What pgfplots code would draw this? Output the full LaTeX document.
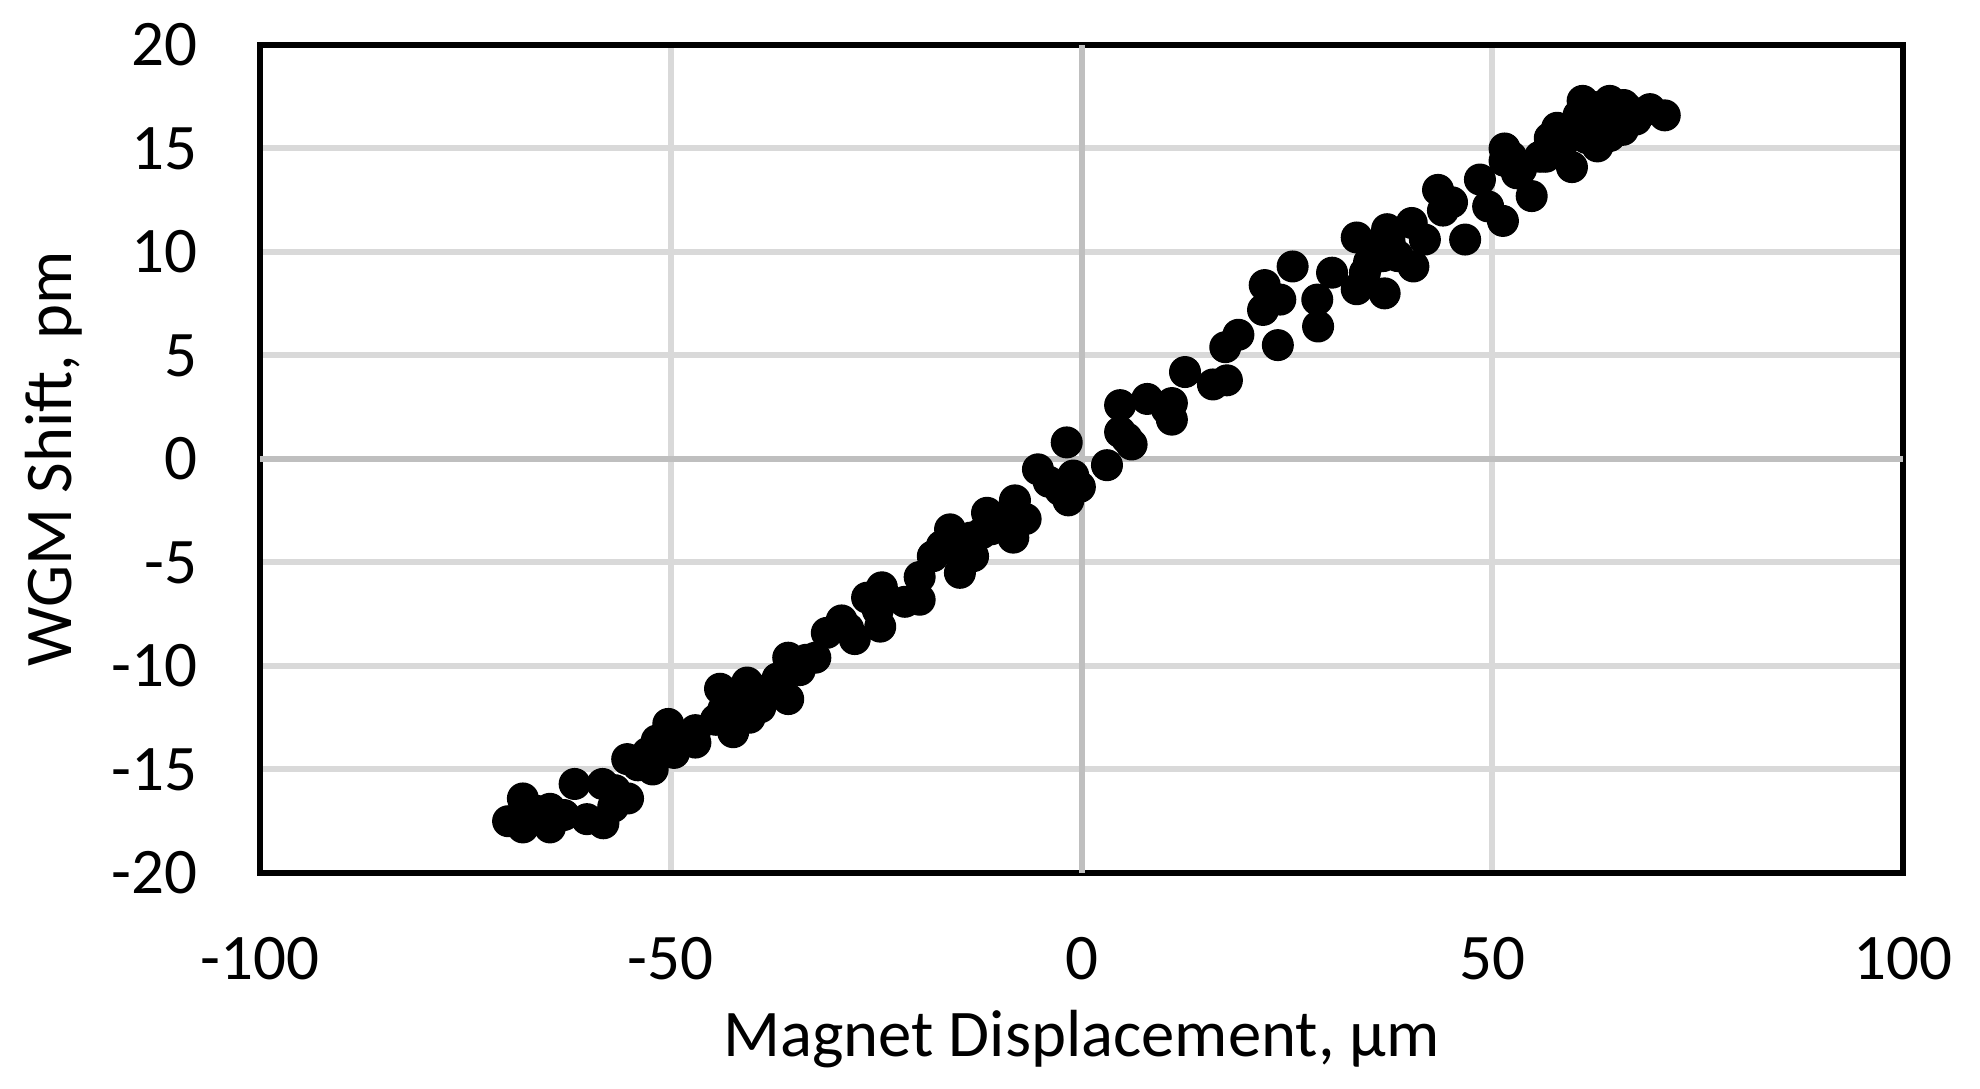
\documentclass[border=0pt]{standalone}
\usepackage{pgfplots}
\pgfplotsset{compat=1.18}
\usepackage{fontspec}
\setmainfont{Carlito}
\definecolor{gridc}{HTML}{D9D9D9}
\definecolor{zeroc}{HTML}{BFBFBF}
\begin{document}
\begin{tikzpicture}
\begin{axis}[
  scale only axis,
  width=492.9pt, height=248.4pt,
  xmin=-100, xmax=100, ymin=-20, ymax=20,
  xtick={-100,-50,0,50,100},
  xticklabels={-100,-50,0,50,100},
  ytick={-20,-15,-10,-5,0,5,10,15,20},
  yticklabels={-20,-15,-10,-5,0,5,10,15,20},
  major tick length=0pt,
  tick style={draw=none},
  xmajorgrids, ymajorgrids,
  grid style={draw=gridc, line width=1.8pt},
  extra x ticks={0}, extra y ticks={0},
  extra x tick labels={}, extra y tick labels={},
  extra tick style={grid style={draw=zeroc, line width=1.8pt}, tick style={draw=none}},
  axis line style={line width=2pt, black},
  tick label style={font=\fontsize{19.5}{22}\selectfont, inner sep=0pt},
  xticklabel style={anchor=north, yshift=-19pt},
  yticklabel style={anchor=east, xshift=-18.5pt},
  every axis x label/.style={at={(axis description cs:0.5,0)}, anchor=base, yshift=-55pt, font=\fontsize{20}{24}\selectfont},
  every axis y label/.style={at={(axis description cs:0,0.5)}, xshift=-56.4pt, rotate=90, anchor=base, font=\fontsize{20}{24}\selectfont},
  xlabel={Magnet Displacement, µm},
  ylabel={WGM Shift, pm},
  clip=false,
]
\addplot[only marks, mark=*, mark size=4.6pt, mark options={fill=black, draw=black}] coordinates {
(-69.8,-17.5) (-68.0,-16.4) (-68.0,-17.8) (-66.3,-17.0) (-66.5,-17.4) (-64.7,-16.9) (-64.7,-17.8)
(-63.0,-17.2) (-61.7,-15.7) (-60.2,-17.4) (-58.2,-17.6) (-58.3,-15.7) (-57.0,-16.8) (-56.8,-16.0) (-55.2,-16.4)
(-55.3,-14.5) (-54.0,-14.8) (-53.4,-14.6) (-52.2,-15.0) (-52.8,-14.2) (-51.7,-13.6) (-50.3,-12.8) (-50.8,-13.9) (-49.6,-14.2)
(-48.5,-13.4) (-47.0,-13.1) (-47.0,-13.7) (-44.0,-11.1) (-43.6,-12.1) (-44.5,-12.6) (-42.4,-13.2) (-43.2,-11.3)
(-41.5,-11.6) (-40.7,-10.8) (-40.4,-12.5) (-39.1,-12.0) (-38.0,-11.1) (-37.0,-10.6) (-35.7,-9.6) (-35.7,-11.6)
(-34.3,-10.2) (-33.5,-9.7) (-32.4,-9.6) (-31.0,-8.4) (-29.2,-7.8) (-28.4,-8.2) (-27.6,-8.7) (-26.1,-6.7)
(-24.3,-6.2) (-24.5,-8.1) (-24.8,-7.3) (-21.5,-6.9) (-19.7,-6.8) (-19.7,-5.7)
(-18.1,-4.7) (-17.0,-4.2) (-16.0,-3.4) (-14.8,-5.5) (-15.2,-4.4) (-13.2,-4.7) (-13.5,-3.8) (-12.2,-3.6)
(-11.5,-2.6) (-11.0,-3.4) (-9.5,-3.0) (-8.3,-3.8) (-8.1,-2.0) (-6.8,-2.9) (-5.3,-0.5)
(-4.0,-1.1) (-2.6,-1.5) (-1.8,0.8) (-1.6,-2.0) (-0.2,-1.35) (-1.0,-0.8) (3.1,-0.3)
(4.7,2.6) (4.7,1.3) (6.1,0.7) (5.5,1.0) (8.0,2.9) (11.0,1.9) (11.0,2.7) (10.4,2.4)
(12.6,4.2) (16.0,3.6) (17.7,3.8) (17.5,5.4) (19.1,6.0) (22.3,8.4) (22.1,7.2)
(24.2,7.7) (23.9,5.5) (25.7,9.3) (28.7,7.7) (28.8,6.4) (30.5,9.0) (33.5,10.7)
(33.5,8.2) (34.5,9.0) (35.0,9.5) (35.5,10.3) (36.7,9.8) (36.9,8.0) (37.2,11.1) (37.5,10.5) (38.5,9.8) (40.4,9.3)
(40.2,11.4) (41.8,10.6) (43.4,13.0) (44.0,12.0) (45.1,12.4) (46.7,10.6) (48.5,13.5) (49.5,12.2)
(51.3,11.5) (51.5,15.0) (51.5,14.4) (52.3,14.6) (53.0,13.8) (53.5,14.0) (54.8,12.7) (55.8,14.6) (56.5,14.6)
(57.0,15.5) (57.9,16.0) (58.5,15.2) (59.0,15.6) (59.7,14.1) (60.0,16.0) (60.5,16.6) (61.0,17.3) (61.5,15.5) (62.0,16.3)
(62.5,17.0) (62.8,15.1) (63.0,16.8) (63.8,16.2) (64.3,17.3) (64.3,15.6) (65.0,16.6) (65.9,15.9) (66.0,17.1) (66.5,16.9) (67.5,16.4)
(69.2,16.9) (71.0,16.6)
};
\coordinate (ll) at (rel axis cs:0,0);
\coordinate (ur) at (rel axis cs:1,1);
\end{axis}
\pgfresetboundingbox
\path[use as bounding box] ([shift={(-78pt,-64.8pt)}]ll) rectangle ([shift={(23.1pt,13.5pt)}]ur);
\end{tikzpicture}
\end{document}
